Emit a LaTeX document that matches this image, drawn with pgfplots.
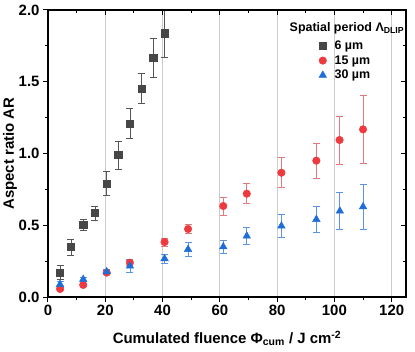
\documentclass[border=0pt]{standalone}
\usepackage{fontspec}
\setmainfont{Liberation Sans}
\usepackage{pgfplots}
\pgfplotsset{compat=1.18}

\definecolor{sqc}{HTML}{474747}
\definecolor{sqe}{HTML}{555555}
\definecolor{cic}{HTML}{EE3A3F}
\definecolor{cie}{HTML}{E07A7C}
\definecolor{trc}{HTML}{1F6ED8}
\definecolor{tre}{HTML}{5B94DF}
\definecolor{grd}{HTML}{CCCCCC}

\pgfplotsset{
  frame/.style={
    scale only axis, width=358bp, height=287bp,
    xmin=0, xmax=125, ymin=0, ymax=2,
    xtick={0,20,...,120}, ytick={0,0.5,...,2},
    minor x tick num=1, minor y tick num=1,
    major tick length=5bp, minor tick length=3bp,
    axis line style={black, line width=1.3bp},
    every tick/.style={black, line width=1bp},
  },
}

\begin{document}
\begin{tikzpicture}
\begin{axis}[
    frame, name=main,
    xtick pos=bottom, ytick pos=left, tick align=outside,
    xmajorgrids, grid style={grd, line width=0.7bp},
    /pgf/number format/assume math mode=true,
    yticklabel style={/pgf/number format/.cd, fixed, fixed zerofill, precision=1},
    tick label style={font=\bfseries\fontsize{15}{18}\selectfont},
    label style={font=\bfseries\fontsize{15}{18}\selectfont},
    xlabel={Cumulated fluence Φ\textsubscript{cum} / J cm\textsuperscript{-2}},
    xlabel style={yshift=-8bp},
    ylabel={Aspect ratio AR},
    ylabel style={yshift=-5bp},
    legend style={draw=none, fill=none, at={(0.748,0.907)}, anchor=north west,
      font=\bfseries\fontsize{12.5}{14}\selectfont, column sep=6bp,
      row sep=0.5bp},
    legend cell align=left,
  ]
  \addplot[only marks, mark=square*, mark size=3.6bp, sqc,
    error bars/.cd, y dir=both, y explicit,
    error bar style={sqe, line width=0.7bp},
    error mark options={rotate=90, mark size=3.5bp, sqe, line width=0.7bp}]
  coordinates {
    (4.2,0.172) +- (0,0.047)
    (8.0,0.348) +- (0,0.055)
    (12.3,0.502) +- (0,0.040)
    (16.4,0.585) +- (0,0.048)
    (20.5,0.792) +- (0,0.082)
    (24.5,0.990) +- (0,0.098)
    (28.6,1.210) +- (0,0.105)
    (32.7,1.454) +- (0,0.105)
    (36.7,1.665) +- (0,0.135)
    (40.7,1.838) +- (0,0.165)
  };
  \addlegendentry{6 µm}
  \addplot[only marks, mark=*, mark size=3.8bp, cic,
    error bars/.cd, y dir=both, y explicit,
    error bar style={cie, line width=0.7bp},
    error mark options={rotate=90, mark size=3.5bp, cie, line width=0.7bp}]
  coordinates {
    (4.2,0.056) +- (0,0.010)
    (12.3,0.084) +- (0,0.010)
    (20.5,0.170) +- (0,0.015)
    (28.6,0.239) +- (0,0.015)
    (40.7,0.383) +- (0,0.027)
    (48.9,0.474) +- (0,0.033)
    (61.2,0.634) +- (0,0.062)
    (69.4,0.720) +- (0,0.070)
    (81.5,0.866) +- (0,0.104)
    (93.7,0.950) +- (0,0.124)
    (101.8,1.094) +- (0,0.167)
    (110.0,1.168) +- (0,0.240)
  };
  \addlegendentry{15 µm}
  \addplot[only marks, mark=triangle*, mark size=4.4bp, trc,
    error bars/.cd, y dir=both, y explicit,
    error bar style={tre, line width=0.7bp},
    error mark options={rotate=90, mark size=3.5bp, tre, line width=0.7bp}]
  coordinates {
    (4.2,0.088) +- (0,0.020)
    (12.3,0.123) +- (0,0.015)
    (20.5,0.176) +- (0,0.015)
    (28.6,0.216) +- (0,0.043)
    (40.7,0.267) +- (0,0.030)
    (48.9,0.332) +- (0,0.047)
    (61.2,0.350) +- (0,0.046)
    (69.4,0.425) +- (0,0.058)
    (81.5,0.495) +- (0,0.081)
    (93.7,0.541) +- (0,0.090)
    (101.9,0.599) +- (0,0.130)
    (110.0,0.629) +- (0,0.157)
  };
  \addlegendentry{30 µm}
  \node[font=\bfseries\fontsize{12.5}{14}\selectfont] at (rel axis cs:0.835,0.935)
    {Spatial period Λ\textsubscript{DLIP}};
\end{axis}
\begin{axis}[
    frame,
    xtick pos=top, ytick pos=right, tick align=inside,
    xticklabels={}, yticklabels={},
  ]
\end{axis}
\pgfresetboundingbox
\path ([shift={(-48bp,-55bp)}]main.south west) rectangle ([shift={(9bp,10bp)}]main.north east);
\end{tikzpicture}
\end{document}
